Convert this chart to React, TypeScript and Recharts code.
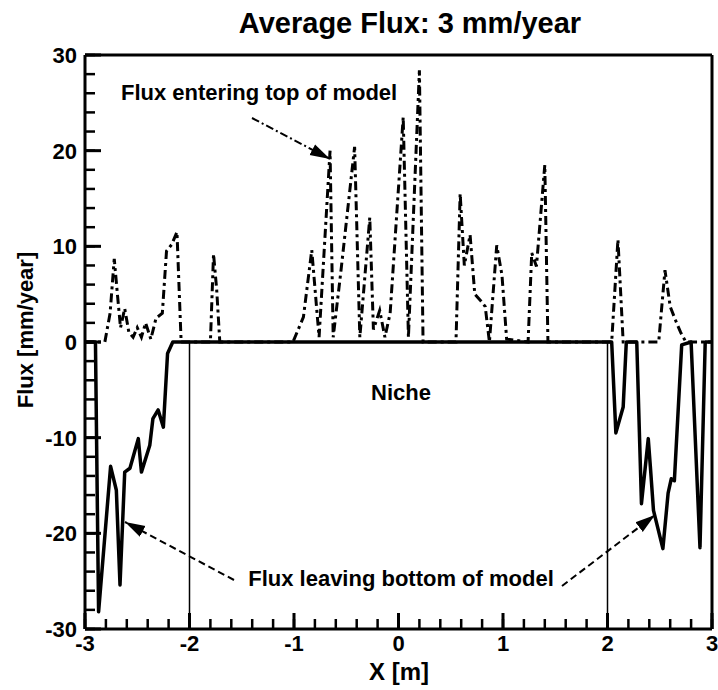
import { Line, LineChart, ReferenceLine, XAxis, YAxis } from "recharts";

const FONT = "'Liberation Sans', Arial, Helvetica, sans-serif";

// flux entering the top of the model (dash-dot), x in m, flux in mm/year
const topX = [
  -3, -2.81, -2.76, -2.72, -2.69, -2.66, -2.62, -2.58, -2.54, -2.5, -2.46, -2.42, -2.37, -2.32, -2.26,
  -2.22, -2.17, -2.12, -2.08, -1.8, -1.77, -1.74, -1.71, -1.01, -0.91, -0.83, -0.76, -0.655, -0.625,
  -0.55, -0.42, -0.37, -0.275, -0.24, -0.18, -0.13, -0.08, 0.045, 0.095, 0.2, 0.235, 0.55, 0.59, 0.63,
  0.685, 0.73, 0.78, 0.83, 0.87, 0.94, 0.99, 1.035, 1.24, 1.275, 1.32, 1.4, 1.43, 2.04, 2.1, 2.15, 2.49,
  2.55, 2.6, 2.65, 2.7, 2.75, 3,
];
const topFlux = [
  0, 0, 3, 8.7, 5, 1.5, 3.5, 1, 0.5, 1.5, 0.5, 2, 0.3, 2.5, 3,
  9.5, 10.2, 11.5, 0, 0, 9.2, 5.5, 0, 0, 2.6, 9.6, 0.5, 20, 0.5,
  7.5, 20.4, 0.5, 13, 1.3, 3.3, 0.5, 3, 23.5, 0.5, 28.4, 0, 0, 15.5, 8,
  11.2, 5, 4.4, 3.7, 0, 10.1, 7, 0.3, 0, 9.3, 7.9, 18.5, 0, 0, 10.7, 0, 0,
  7.5, 3.7, 2.3, 1, 0, 0,
];

// flux leaving the bottom of the model (solid)
const bottomX = [
  -3, -2.9, -2.87, -2.755, -2.7, -2.665, -2.62, -2.57, -2.49, -2.46, -2.38, -2.35, -2.3, -2.25, -2.21,
  -2.16, 2.04, 2.08, 2.15, 2.18, 2.28, 2.325, 2.39, 2.41, 2.44, 2.53, 2.58, 2.61, 2.64, 2.71, 2.8,
  2.885, 2.935, 3,
];
const bottomFlux = [
  0, 0, -28.2, -13, -15.5, -25.4, -13.6, -13.2, -10.1, -13.6, -10.8, -8, -7.1, -8.9, -1.2,
  0, 0, -9.5, -6.8, 0, 0, -16.9, -10.1, -13, -17.6, -21.6, -15.8, -14.3, -14.5, -0.3, 0,
  -21.5, 0, 0,
];

const xTickLabels = [-3, -2, -1, 0, 1, 2, 3];
const yTickLabels = [-30, -20, -10, 0, 10, 20, 30];
const nicheEdges = [-2, 2];

const xTicks = Array.from({ length: 31 }, (_, i) => Number((-3 + i * 0.2).toFixed(1)));
const yTicks = Array.from({ length: 31 }, (_, i) => -30 + i * 2);

const topData = topX.map((x, i) => ({ x, flux: topFlux[i] }));
const bottomData = bottomX.map((x, i) => ({ x, flux: bottomFlux[i] }));

const labelStyle = { fontFamily: FONT, fontWeight: 700, fill: "#000" } as const;

// minor ticks come from the axis itself (pointing inward), majors get a longer mark here
const MINOR = 10;
const MAJOR = 16;

function XTick(props: any) {
  const x = Number(props.x);
  const y = Number(props.y);
  const v = Number(props.payload.value);
  if (!xTickLabels.includes(v)) return <g />;
  return (
    <g>
      <rect x={x - 1.5} y={y - MAJOR} width={3} height={MAJOR} fill="#000" />
      <text x={x} y={y + 22} textAnchor="middle" fontSize={22} {...labelStyle}>
        {v}
      </text>
    </g>
  );
}

function YTick(props: any) {
  const x = Number(props.x);
  const y = Number(props.y);
  const v = Number(props.payload.value);
  if (!yTickLabels.includes(v)) return <g />;
  return (
    <g>
      <rect x={x} y={y - 1.5} width={MAJOR} height={3} fill="#000" />
      <text x={x - 8} y={y} dy="0.36em" textAnchor="end" fontSize={22} {...labelStyle}>
        {v}
      </text>
    </g>
  );
}

export default function App() {
  return (
    <div style={{ position: "absolute", left: 0, top: 0, width: 718, height: 690, background: "#fff" }}>
      <LineChart width={718} height={690} margin={{ top: 55, right: 6, bottom: 0, left: 0 }}>
        <XAxis
          dataKey="x"
          type="number"
          domain={[-3, 3]}
          ticks={xTicks}
          interval={0}
          height={61}
          tickSize={-MINOR}
          tickMargin={MINOR}
          tickLine={{ stroke: "#000", strokeWidth: 2.5 }}
          tick={XTick}
          axisLine={{ stroke: "#000", strokeWidth: 3 }}
        />
        <YAxis
          type="number"
          domain={[-30, 30]}
          ticks={yTicks}
          interval={0}
          width={85}
          tickSize={-MINOR}
          tickMargin={MINOR}
          tickLine={{ stroke: "#000", strokeWidth: 2.5 }}
          tick={YTick}
          axisLine={{ stroke: "#000", strokeWidth: 3 }}
        />
        <ReferenceLine y={30} stroke="#000" strokeWidth={3} />
        <ReferenceLine x={3} stroke="#000" strokeWidth={3} />
        {nicheEdges.map((e) => (
          <ReferenceLine
            key={e}
            segment={[
              { x: e, y: 0 },
              { x: e, y: -30 },
            ]}
            stroke="#000"
            strokeWidth={1.5}
          />
        ))}
        <Line
          data={bottomData}
          dataKey="flux"
          type="linear"
          stroke="#000"
          strokeWidth={3.5}
          strokeLinejoin="round"
          dot={false}
          isAnimationActive={false}
        />
        <Line
          data={topData}
          dataKey="flux"
          type="linear"
          stroke="#000"
          strokeWidth={3}
          strokeDasharray="9 4 3 4"
          dot={false}
          isAnimationActive={false}
        />
      </LineChart>

      <svg
        width={718}
        height={690}
        style={{ position: "absolute", left: 0, top: 0, pointerEvents: "none" }}
      >
        <defs>
          <marker
            id="head"
            markerUnits="userSpaceOnUse"
            markerWidth={22}
            markerHeight={14}
            refX={20}
            refY={7}
            orient="auto"
          >
            <path d="M0,1 L20,7 L0,13 Z" fill="#000" />
          </marker>
        </defs>
        <text x={410} y={33} textAnchor="middle" fontSize={29} {...labelStyle}>
          Average Flux: 3 mm/year
        </text>
        <text x={121} y={100} fontSize={22} {...labelStyle}>
          Flux entering top of model
        </text>
        <line
          x1={252}
          y1={118}
          x2={330}
          y2={159}
          stroke="#000"
          strokeWidth={2}
          strokeDasharray="8 3 2 3"
          markerEnd="url(#head)"
        />
        <text x={401} y={400} textAnchor="middle" fontSize={22} {...labelStyle}>
          Niche
        </text>
        <text x={401} y={586} textAnchor="middle" fontSize={22} {...labelStyle}>
          Flux leaving bottom of model
        </text>
        <line
          x1={234}
          y1={580}
          x2={125}
          y2={522}
          stroke="#000"
          strokeWidth={2}
          strokeDasharray="7 4"
          markerEnd="url(#head)"
        />
        <line
          x1={562}
          y1={586}
          x2={655}
          y2={515}
          stroke="#000"
          strokeWidth={2}
          strokeDasharray="7 4"
          markerEnd="url(#head)"
        />
        <text
          x={25}
          y={330}
          transform="rotate(-90 25 330)"
          textAnchor="middle"
          dy="0.36em"
          fontSize={22}
          {...labelStyle}
        >
          Flux [mm/year]
        </text>
        <text x={399} y={680} textAnchor="middle" fontSize={24} {...labelStyle}>
          X [m]
        </text>
      </svg>
    </div>
  );
}
